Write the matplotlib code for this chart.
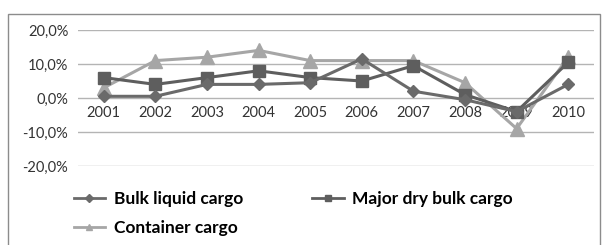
import matplotlib.pyplot as plt
from matplotlib.lines import Line2D
from matplotlib.patches import Rectangle
from matplotlib.ticker import FuncFormatter

years = ["2001", "2002", "2003", "2004", "2005", "2006", "2007", "2008", "2009", "2010"]
bulk_liquid = [0.5, 0.5, 4.0, 4.0, 4.5, 11.5, 2.0, -0.5, -4.0, 4.0]
major_dry_bulk = [6.0, 4.0, 6.0, 8.0, 6.0, 5.0, 9.5, 1.0, -4.0, 10.5]
container = [3.0, 11.0, 12.0, 14.0, 11.0, 11.0, 11.0, 4.5, -9.0, 12.0]

plt.rcParams['font.family'] = ['Lato', 'DejaVu Sans']

fig = plt.figure(figsize=(6.07, 2.45), dpi=100)
fig.patch.set_facecolor("white")
fig.add_artist(Rectangle((8 / 607, -0.05), 592 / 607, 1.05 - 14 / 245,
                         transform=fig.transFigure, fill=False,
                         edgecolor="#8c8c8c", linewidth=1.0))

ax = fig.add_axes([78 / 607, 1 - 166 / 245, 516 / 607, 136 / 245])
x = list(range(len(years)))

ax.plot(x, container, color="#a6a6a6", lw=2.2, marker="^", ms=9.5, zorder=3)
ax.plot(x, major_dry_bulk, color="#5e5e5e", lw=2.2, marker="s", ms=8.5, zorder=4)
ax.plot(x, bulk_liquid, color="#6a6a6a", lw=2.2, marker="D", ms=6.5, zorder=5)

ax.set_xlim(-0.5, len(years) - 0.5)
ax.set_ylim(-20, 20)
ax.set_yticks([-20, -10, 0, 10, 20])
ax.yaxis.set_major_formatter(FuncFormatter(lambda v, p: f"{v:.1f}%".replace(".", ",")))
ax.grid(axis="y", color="#b4b4b4", lw=1.0)
ax.set_axisbelow(True)
for s in ["top", "right", "left"]:
    ax.spines[s].set_visible(False)
ax.spines["bottom"].set_position(("data", 0))
ax.spines["bottom"].set_visible(False)
ax.set_xticks(x)
ax.set_xticklabels(years)
ax.tick_params(axis="x", length=0, pad=6, labelsize=10.5, labelcolor="#333333")
ax.tick_params(axis="y", length=0, pad=7, labelsize=10.5, labelcolor="#333333")

handles = [
    Line2D([], [], color="#6a6a6a", lw=2.0, marker="D", ms=4),
    Line2D([], [], color="#a6a6a6", lw=2.0, marker="^", ms=5),
    Line2D([], [], color="#5e5e5e", lw=2.0, marker="s", ms=5),
]
labels = ["Bulk liquid cargo", "Container cargo", "Major dry bulk cargo"]
fig.legend(handles, labels, ncol=2, loc="upper left",
           bbox_to_anchor=(58 / 607, 1 - 175 / 245), frameon=False,
           prop={"weight": "bold", "size": 12.5}, handlelength=1.8,
           handletextpad=0.5, columnspacing=4.0, labelspacing=0.75)

fig.savefig("out.png", dpi=100, facecolor="white")
